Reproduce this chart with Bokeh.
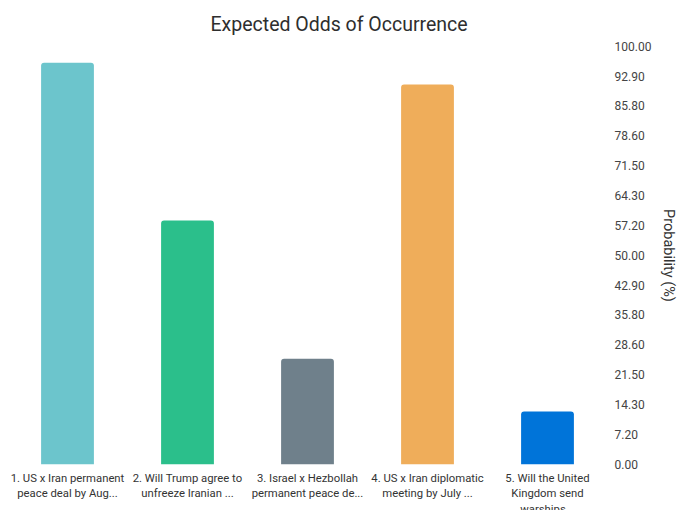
from bokeh.plotting import figure
from bokeh.models import ColumnDataSource, FixedTicker, LinearAxis, Range1d, Title
from bokeh.embed import file_html
from bokeh.resources import INLINE

categories = [
    "1. US x Iran permanent\npeace deal by Aug...",
    "2. Will Trump agree to\nunfreeze Iranian ...",
    "3. Israel x Hezbollah\npermanent peace de...",
    "4. US x Iran diplomatic\nmeeting by July ...",
    "5. Will the United\nKingdom send\nwarships...",
]
probabilities = [96.1, 58.4, 25.3, 90.9, 12.7]
colors = ["#6cc5cc", "#2bbf8b", "#6f808b", "#efad5a", "#0074d9"]
tick_values = [0.0, 7.2, 14.3, 21.5, 28.6, 35.8, 42.9, 50.0, 57.2, 64.3, 71.5, 78.6, 85.8, 92.9, 100.0]
tick_labels = ["%.2f" % t for t in tick_values]

source = ColumnDataSource(dict(cat=categories, prob=probabilities, color=colors))

p = figure(
    x_range=categories,
    y_range=Range1d(0, 100),
    frame_width=600,
    frame_height=418,
    output_backend="svg",
    toolbar_location=None,
    y_axis_location=None,
    min_border_left=7,
    min_border_right=0,
    min_border_top=46,
    min_border_bottom=38,
    outline_line_color=None,
)
p.x_range.range_padding = 0
p.grid.visible = False

p.vbar(x="cat", top="prob", width=0.44, source=source, fill_color="color",
       line_color=None, border_radius=[3, 3, 0, 0])

font = "Roboto"
p.title = Title(text="Expected Odds of Occurrence", align="left", offset=203,
                standoff=21,
                text_font=font, text_font_size="19.5px", text_font_style="normal",
                text_color="#2e2e2e")

yaxis = LinearAxis(axis_label="Probability (%)")
yaxis.ticker = FixedTicker(ticks=tick_values)
yaxis.major_label_overrides = {t: l for t, l in zip(tick_values, tick_labels)}
yaxis.axis_line_color = None
yaxis.major_tick_line_color = None
yaxis.minor_tick_line_color = None
yaxis.major_tick_out = 0
yaxis.major_label_standoff = 7
yaxis.major_label_text_font = font
yaxis.major_label_text_font_size = "12px"
yaxis.major_label_text_color = "#444444"
yaxis.axis_label_text_font = font
yaxis.axis_label_text_font_size = "14.5px"
yaxis.axis_label_text_font_style = "normal"
yaxis.axis_label_text_color = "#333333"
yaxis.axis_label_standoff = 6
p.add_layout(yaxis, "right")

xa = p.xaxis[0]
xa.axis_line_color = None
xa.major_tick_line_color = None
xa.minor_tick_line_color = None
xa.major_tick_out = 0
xa.major_label_standoff = 7
xa.major_label_text_font = font
xa.major_label_text_font_size = "11.3px"
xa.major_label_text_color = "#333333"

open("out.html", "w").write(file_html(p, INLINE))
